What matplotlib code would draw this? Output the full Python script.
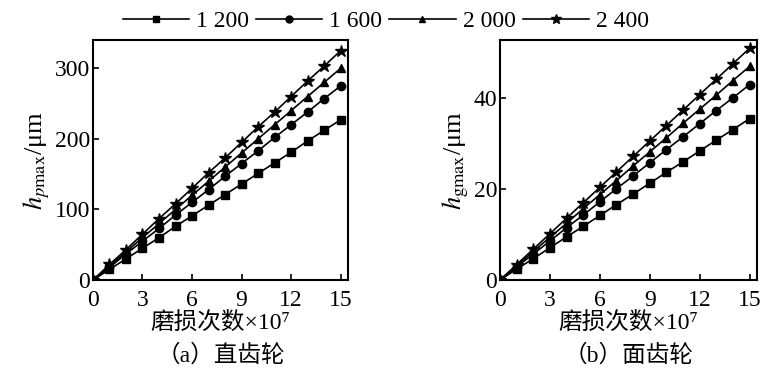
import matplotlib
matplotlib.use('Agg')
import matplotlib.pyplot as plt
from matplotlib.lines import Line2D

plt.rcParams['font.family'] = ['Liberation Serif', 'Noto Sans CJK SC', 'DejaVu Serif']
plt.rcParams['mathtext.fontset'] = 'stix'

cycles = [0, 1, 2, 3, 4, 5, 6, 7, 8, 9, 10, 11, 12, 13, 14, 15]
labels = ['1 200', '1 600', '2 000', '2 400']
markers = ['s', 'o', '^', '*']

# (a) spur gear, h_pmax / um
spur_1200 = [0, 15, 30, 45, 60, 76, 91, 106, 121, 136, 151, 166, 181, 197, 212, 227]
spur_1600 = [0, 18, 37, 55, 73, 92, 110, 128, 147, 165, 183, 202, 220, 238, 257, 275]
spur_2000 = [0, 20, 40, 60, 80, 100, 120, 140, 160, 180, 200, 220, 240, 260, 280, 300]
spur_2400 = [0, 22, 43, 65, 87, 108, 130, 152, 173, 195, 217, 238, 260, 282, 303, 325]

# (b) face gear, h_gmax / um
face_1200 = [0, 2.4, 4.7, 7.1, 9.5, 11.8, 14.2, 16.6, 18.9, 21.3, 23.7, 26.0, 28.4, 30.8, 33.1, 35.5]
face_1600 = [0, 2.9, 5.7, 8.6, 11.5, 14.3, 17.2, 20.1, 22.9, 25.8, 28.7, 31.5, 34.4, 37.3, 40.1, 43.0]
face_2000 = [0, 3.1, 6.3, 9.4, 12.5, 15.7, 18.8, 21.9, 25.1, 28.2, 31.3, 34.5, 37.6, 40.7, 43.9, 47.0]
face_2400 = [0, 3.4, 6.8, 10.2, 13.6, 17.0, 20.4, 23.8, 27.2, 30.6, 34.0, 37.4, 40.8, 44.2, 47.6, 51.0]

FS = 17

fig = plt.figure(figsize=(7.64, 3.82), dpi=100)
ax1 = fig.add_axes([0.1217, 0.267, 0.3338, 0.628])
ax2 = fig.add_axes([0.6545, 0.267, 0.3364, 0.628])

panels = [
    (ax1, [spur_1200, spur_1600, spur_2000, spur_2400], [0, 100, 200, 300], 340,
     r'$h_{p\mathrm{max}}$/μm', '（a）直齿轮'),
    (ax2, [face_1200, face_1600, face_2000, face_2400], [0, 20, 40], 52.8,
     r'$h_{\mathrm{gmax}}$/μm', '（b）面齿轮'),
]

for ax, series, yticks, ytop, ylabel, caption in panels:
    for values, marker in zip(series, markers):
        size = 9 if marker == '*' else 6
        ax.plot(cycles, values, color='black', lw=1.2, marker=marker, ms=size)
    ax.set_xlim(0, 15.45)
    ax.set_ylim(0, ytop)
    ax.set_xticks([0, 3, 6, 9, 12, 15])
    ax.set_yticks(yticks)
    ax.tick_params(direction='in', length=4, width=1.2, labelsize=FS)
    ax.tick_params(axis='x', pad=7)
    ax.tick_params(axis='y', pad=2)
    for spine in ax.spines.values():
        spine.set_linewidth(1.5)
    ax.set_ylabel(ylabel, fontsize=19, labelpad=2)
    ax.set_xlabel('磨损次数×10⁷', fontsize=FS, labelpad=1)
    box = ax.get_position()
    fig.text((box.x0 + box.x1) / 2, 0.07, caption, ha='center', va='center', fontsize=FS)

handles = [Line2D([], [], color='black', lw=1.2, marker=m, ms=(7.5 if m == '*' else 5))
           for m in markers]
fig.legend(handles, labels, loc='center', bbox_to_anchor=(0.505, 0.945), ncol=4,
           frameon=False, fontsize=FS, handlelength=2.8, handletextpad=0.3,
           columnspacing=0.3, borderpad=0)

fig.savefig('out.png', dpi=100)
